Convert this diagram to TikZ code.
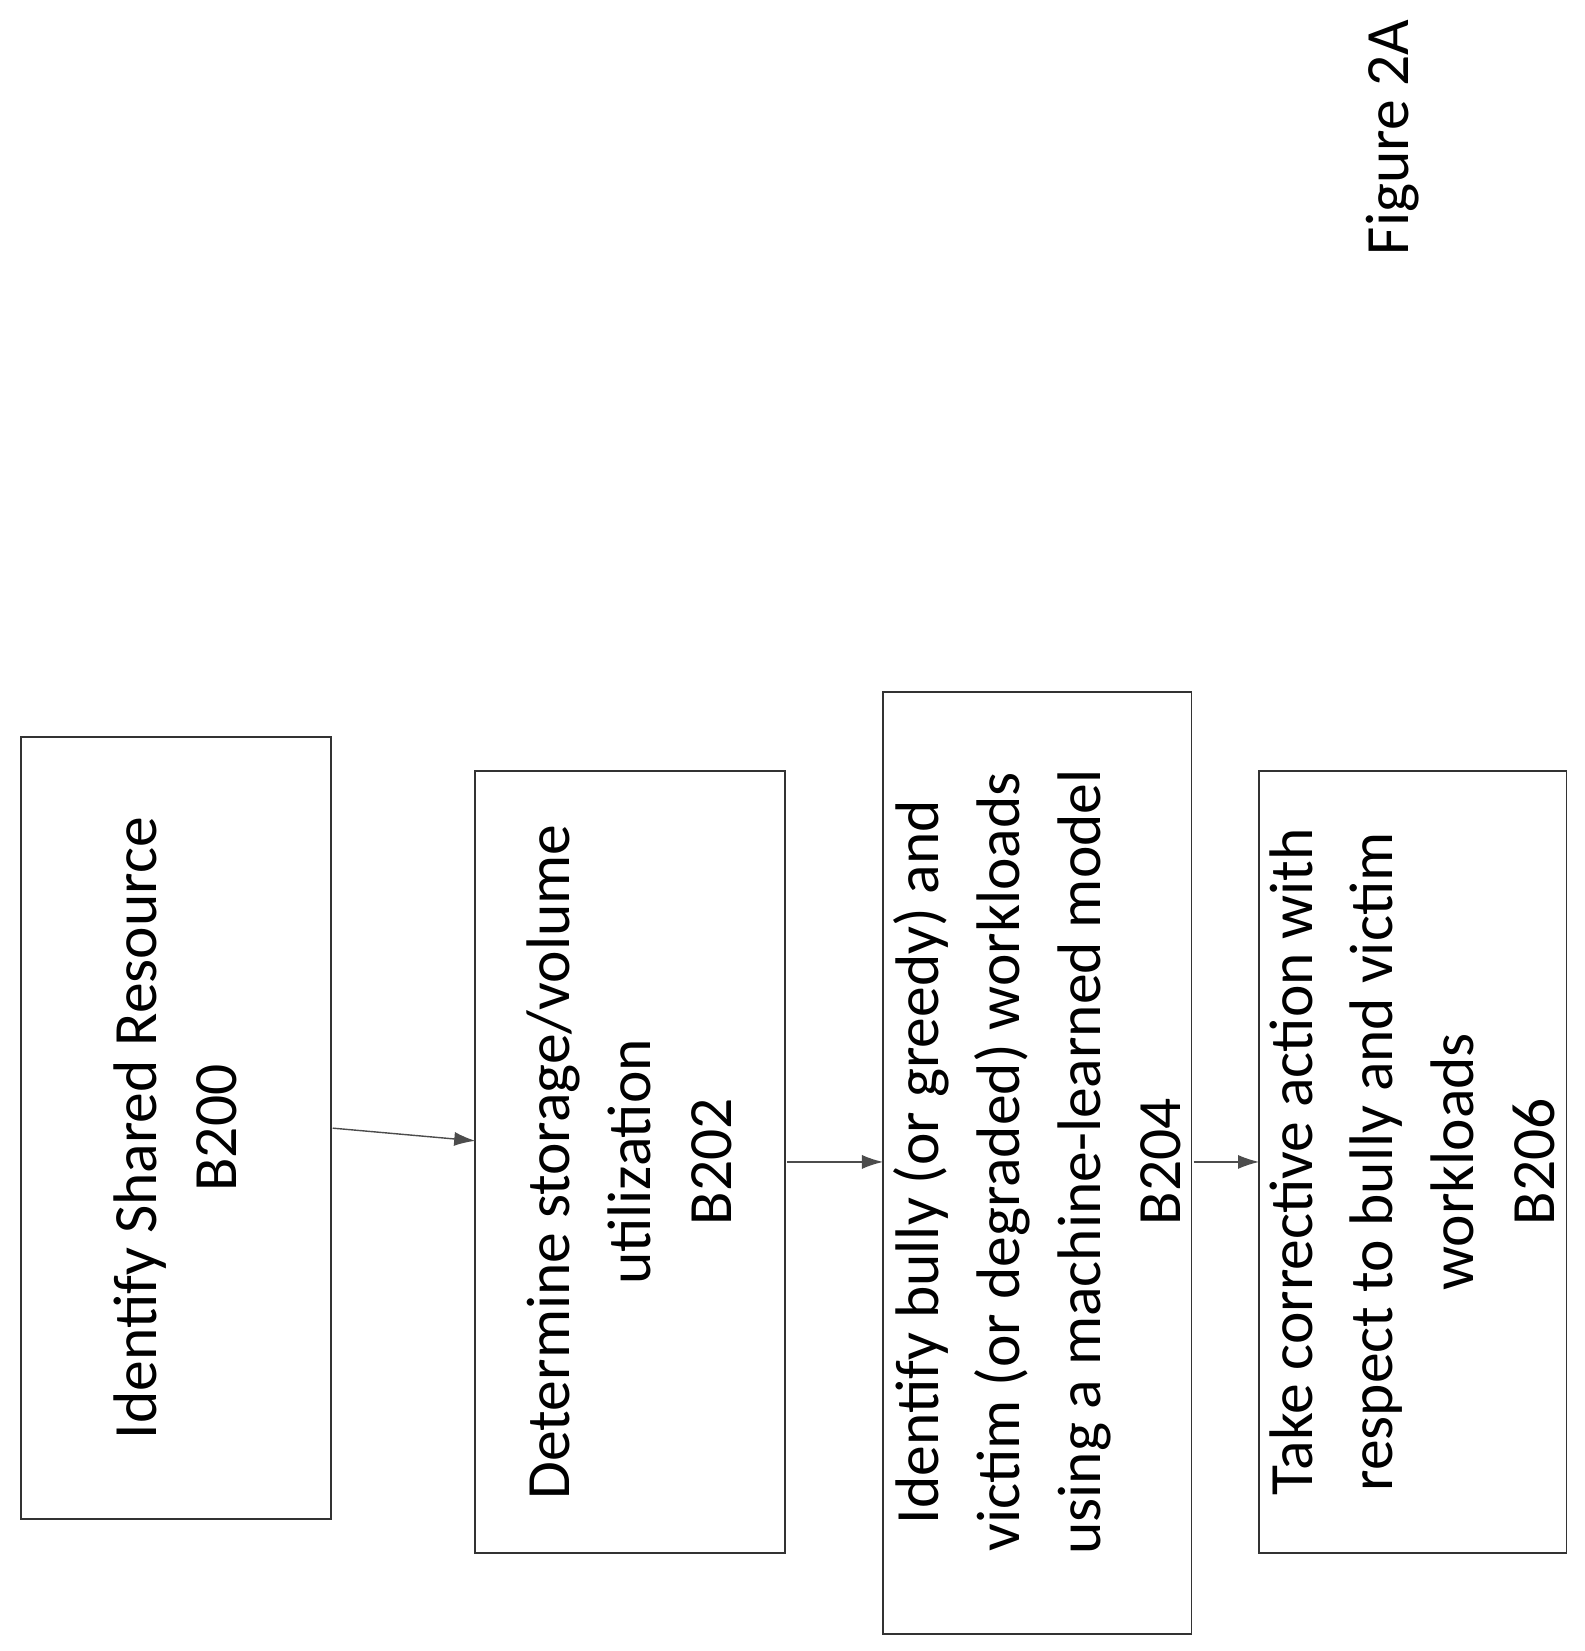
\documentclass[tikz,border=0pt]{standalone}
\usepackage{fontspec}
\setmainfont{Carlito}
\usetikzlibrary{arrows.meta}
\begin{document}
\begin{tikzpicture}[x=0.02112cm,y=-0.02112cm]
        \useasboundingbox (0,0) rectangle (1500,1563);
        \tikzset{stepbox/.style={draw=black!80, line width=1pt},
                 steptext/.style={rotate=90, align=center, font=\fontsize{35}{46}\selectfont}}
        % Boxes
        \draw[stepbox] (20,698) rectangle (313,1438);
        \draw[stepbox] (450,730) rectangle (743,1470);
        \draw[stepbox] (836,655) rectangle (1128,1547);
        \draw[stepbox] (1192,730) rectangle (1483,1470);
        
        % Texts
        \node[steptext] (b200) at (166,1068) {Identify Shared Resource\\B200};
        \node[steptext] (b202) at (596,1100) {Determine storage/volume\\utilization\\B202};
        \node[steptext] (b204) at (982,1100) {Identify bully (or greedy) and\\victim (or degraded) workloads\\using a machine-learned model\\B204};
        \node[steptext] (b206) at (1337,1100) {Take corrective action with\\respect to bully and victim\\workloads\\B206};
        \node[rotate=90, font=\fontsize{35}{46}\selectfont] (fig) at (1318,130) {Figure 2A};
        
        % Arrows
        \coordinate (a0) at (315,1068); \coordinate (a1) at (450,1080);
        \coordinate (c0) at (745,1100); \coordinate (c1) at (836,1100);
        \coordinate (d0) at (1130,1100); \coordinate (d1) at (1192,1100);
        \draw[-{Latex[length=12pt,width=8pt]}, black!70, line width=0.8pt] (a0) -- (a1);
        \draw[-{Latex[length=12pt,width=8pt]}, black!70, line width=0.8pt] (c0) -- (c1);
        \draw[-{Latex[length=12pt,width=8pt]}, black!70, line width=0.8pt] (d0) -- (d1);
\end{tikzpicture}
\end{document}
